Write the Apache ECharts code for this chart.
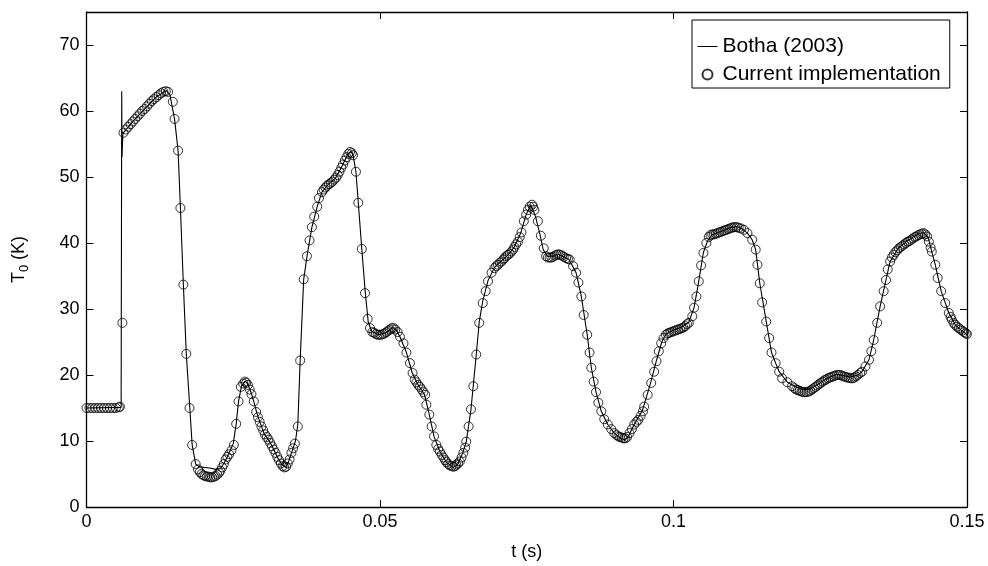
<!DOCTYPE html>
<html><head><meta charset="utf-8">
<script src="https://cdn.jsdelivr.net/npm/echarts@6/dist/echarts.min.js"></script>
<style>html,body{margin:0;padding:0;background:#fff}#c{width:988px;height:566px}</style>
</head><body><div id="c"></div>
<script>
// tick labels
const xTicks = [0, 0.05, 0.1, 0.15];
const yTicks = [0, 10, 20, 30, 40, 50, 60, 70];
const seriesNames = ['Botha (2003)', 'Current implementation'];

// Botha (2003) reference curve: [t (s), T0 (K)]
const bothaPoints = [
[0,15.0],[0.0059,15.1],[0.0060,63.0],[0.00605,53.0],[0.0062,56.6],[0.0080,58.5],[0.0100,60.4],[0.0120,62.2],[0.0136,63.1],[0.0142,62.5],
[0.0150,58.8],[0.0156,54.0],[0.0160,45.3],[0.0165,33.7],[0.0170,23.2],[0.0176,15.0],[0.0180,9.4],[0.0186,6.5],[0.0192,6.1],[0.0200,6.0],
[0.0210,5.9],[0.0220,5.7],[0.0228,5.8],[0.0234,6.6],[0.0242,8.0],[0.0250,9.6],[0.0255,12.6],[0.0259,16.0],[0.0264,18.3],[0.0270,19.1],
[0.0275,18.6],[0.0280,17.4],[0.0285,16.0],[0.0290,14.3],[0.0296,12.7],[0.0303,11.0],[0.0310,10.2],[0.0318,8.9],[0.0326,7.4],[0.0333,6.4],
[0.0339,6.0],[0.0344,6.8],[0.0350,8.4],[0.0356,10.0],[0.0360,12.5],[0.0364,22.2],[0.0370,34.5],[0.0376,38.2],[0.0384,42.4],[0.0393,45.5],
[0.0401,47.7],[0.0412,48.9],[0.0424,49.8],[0.0435,51.6],[0.0445,53.4],[0.0450,53.9],[0.0454,53.4],[0.0459,50.8],[0.0463,46.1],[0.0469,39.1],
[0.0475,32.4],[0.0480,28.0],[0.0486,26.6],[0.0498,26.1],[0.0510,26.4],[0.0522,27.2],[0.0528,26.8],[0.0534,25.8],[0.0545,23.4],[0.0555,20.3],
[0.0565,18.5],[0.0576,17.0],[0.0584,14.0],[0.0592,10.7],[0.0602,8.4],[0.0613,6.8],[0.0624,6.0],[0.0632,6.4],[0.0641,8.2],[0.0647,9.9],
[0.0655,14.8],[0.0664,23.1],[0.0669,28.0],[0.0675,31.2],[0.0684,34.3],[0.0695,36.3],[0.0707,37.3],[0.0718,38.2],[0.0729,39.4],[0.0740,41.6],
[0.0749,44.3],[0.0757,45.8],[0.0760,45.6],[0.0765,44.0],[0.0773,41.1],[0.0778,39.0],[0.0785,38.0],[0.0795,38.0],[0.0803,38.3],[0.0811,38.0],
[0.0822,37.5],[0.0834,35.5],[0.0843,31.9],[0.0853,26.1],[0.0860,21.1],[0.0868,17.4],[0.0877,14.5],[0.0888,12.5],[0.0899,11.2],[0.0910,10.4],
[0.0916,10.2],[0.0922,10.5],[0.0933,12.5],[0.0947,14.6],[0.0961,18.8],[0.0971,22.2],[0.0980,25.0],[0.0987,26.2],[0.1000,26.8],[0.1012,27.2],
[0.1026,28.0],[0.1035,30.2],[0.1043,34.2],[0.1051,38.6],[0.1058,40.3],[0.1066,41.3],[0.1080,41.7],[0.1096,42.3],[0.1108,42.5],[0.1116,42.2],
[0.1126,41.5],[0.1134,40.5],[0.1140,39.0],[0.1147,33.9],[0.1158,28.1],[0.1167,23.4],[0.1174,21.8],[0.1180,20.5],[0.1194,18.9],[0.1210,18.1],
[0.1222,17.8],[0.1234,17.9],[0.1246,18.6],[0.1262,19.5],[0.1278,20.1],[0.1290,19.9],[0.1302,19.7],[0.1314,20.0],[0.1321,20.5],[0.1333,22.3],
[0.1341,25.3],[0.1352,30.4],[0.1362,34.4],[0.1369,37.2],[0.1383,39.2],[0.1395,40.1],[0.1406,40.8],[0.1418,41.4],[0.1426,41.6],[0.1434,40.8],
[0.1440,38.7],[0.1446,36.7],[0.1456,32.7],[0.1469,29.4],[0.1480,27.6],[0.1490,26.8],[0.1500,26.1]
];

// Current implementation (circles): [t (s), T0 (K)]
const implementationPoints = [
[0,15.0],[0.0005,15.0],[0.0010,15.0],[0.0015,15.0],[0.0020,15.0],[0.0025,15.0],[0.0030,15.0],[0.0035,15.0],[0.0040,15.0],[0.0045,15.0],
[0.0050,15.0],[0.0055,15.1],[0.0057,15.2],[0.00612,27.9],
[0.0063,56.7],[0.0067,57.2],[0.0071,57.6],[0.0075,58.0],[0.0079,58.4],[0.0083,58.8],[0.0087,59.2],[0.0091,59.6],[0.0095,60.0],[0.0099,60.3],
[0.0103,60.7],[0.0107,61.1],[0.0111,61.5],[0.0115,61.8],[0.0119,62.1],[0.0123,62.4],[0.0127,62.7],[0.0131,62.9],[0.0135,63.0],[0.0139,62.9],
[0.0147,61.4],[0.0150,58.8],[0.0156,54.0],[0.0160,45.3],[0.0165,33.7],[0.0170,23.2],[0.01755,15.0],[0.0180,9.4],[0.0186,6.5],
[0.0190,5.7],[0.0193,5.3],[0.0196,5.0],[0.0199,4.8],[0.0202,4.7],[0.0205,4.6],[0.0208,4.6],[0.0211,4.5],[0.0214,4.5],[0.0217,4.6],
[0.0220,4.7],[0.0223,4.9],[0.0226,5.2],[0.0228,5.5],[0.0231,6.0],[0.0234,6.5],[0.0237,7.2],[0.0240,7.6],[0.0243,8.0],[0.0247,8.6],
[0.0251,9.4],[0.0255,12.6],[0.0259,16.0],[0.0263,18.2],[0.0267,18.7],[0.0270,19.0],[0.0272,18.8],[0.0275,18.5],[0.0278,17.8],[0.0281,17.1],
[0.0285,16.0],[0.0289,14.4],[0.0292,13.6],[0.0295,12.9],[0.0298,12.2],[0.0301,11.6],[0.0304,11.0],[0.0307,10.6],[0.0310,10.2],[0.0313,9.7],
[0.0316,9.2],[0.0319,8.7],[0.0322,8.2],[0.0325,7.6],[0.0328,7.1],[0.0331,6.6],[0.0334,6.2],[0.0337,6.0],[0.0340,6.1],[0.0343,6.6],
[0.0346,7.2],[0.0349,8.2],[0.0352,8.9],[0.0355,9.6],[0.0360,12.2],[0.0364,22.2],[0.0370,34.5],[0.03755,38.0],[0.0380,40.4],[0.0384,42.4],
[0.0388,44.0],[0.0393,45.5],[0.0396,46.8],[0.0401,47.7],[0.0404,48.1],[0.0407,48.4],[0.0410,48.7],[0.0413,48.9],[0.0416,49.1],[0.0419,49.3],
[0.0422,49.6],[0.0425,49.9],[0.0428,50.3],[0.0431,50.8],[0.0434,51.4],[0.0437,51.9],[0.0440,52.5],[0.0443,53.0],[0.0446,53.5],[0.0449,53.8],
[0.0452,53.6],[0.0454,53.3],[0.0459,50.8],[0.0463,46.1],[0.0469,39.1],[0.04745,32.4],[0.0479,28.5],[0.0483,27.1],[0.0487,26.5],[0.0490,26.4],
[0.0493,26.2],[0.0496,26.1],[0.0499,26.1],[0.0502,26.1],[0.0505,26.2],[0.0508,26.3],[0.0511,26.5],[0.0514,26.7],[0.0517,26.9],[0.0520,27.1],
[0.0523,27.1],[0.0526,26.9],[0.0530,26.5],[0.0534,25.8],[0.0540,24.8],[0.0545,23.4],[0.0551,21.8],[0.05555,20.3],[0.0559,19.3],[0.0562,18.9],
[0.0565,18.5],[0.0568,18.2],[0.0571,17.8],[0.0574,17.4],[0.0577,17.0],[0.0579,15.5],[0.0584,14.0],[0.0588,12.2],[0.0592,10.7],[0.0596,9.4],
[0.0599,8.8],[0.0602,8.4],[0.0605,7.9],[0.0608,7.5],[0.0611,7.1],[0.0613,6.8],[0.0616,6.5],[0.0619,6.3],[0.0622,6.2],[0.0625,6.1],
[0.0628,6.2],[0.0630,6.4],[0.0633,6.6],[0.0636,6.9],[0.0639,7.5],[0.0642,8.2],[0.0645,9.0],[0.0647,9.9],[0.0651,12.2],[0.0655,14.8],
[0.0659,18.3],[0.0664,23.1],[0.0669,27.9],[0.0675,30.9],[0.0680,32.7],[0.0684,34.2],[0.0690,35.5],[0.0695,36.2],[0.0698,36.5],[0.0701,36.7],
[0.0704,37.0],[0.0707,37.2],[0.0710,37.5],[0.0712,37.7],[0.0715,38.0],[0.0718,38.2],[0.0721,38.4],[0.0724,38.7],[0.0727,39.0],[0.0729,39.4],
[0.0732,39.8],[0.0735,40.2],[0.0738,40.9],[0.0741,41.6],[0.0745,43.3],[0.0749,44.3],[0.0752,45.0],[0.0755,45.5],[0.0759,45.8],[0.0761,45.5],
[0.0763,45.0],[0.0769,43.3],[0.0774,41.1],[0.0779,39.2],[0.0783,38.0],[0.0786,37.8],[0.0789,37.8],[0.0792,37.8],[0.0795,37.9],[0.0798,38.1],
[0.0801,38.2],[0.0804,38.3],[0.0807,38.2],[0.0810,38.1],[0.0813,37.9],[0.0817,37.7],[0.0820,37.6],[0.0823,37.5],[0.0829,36.5],[0.0834,35.5],
[0.0838,34.0],[0.0843,31.9],[0.0847,29.1],[0.0853,26.1],[0.0857,23.4],[0.0860,21.1],[0.0864,19.0],[0.0868,17.4],[0.0872,15.8],[0.0877,14.5],
[0.0882,13.3],[0.0888,12.5],[0.0894,11.8],[0.0899,11.2],[0.0903,10.9],[0.0906,10.7],[0.0909,10.6],[0.0912,10.5],[0.0915,10.4],[0.0918,10.4],
[0.0921,10.6],[0.0925,11.2],[0.0929,11.8],[0.0933,12.5],[0.0937,12.9],[0.0940,13.2],[0.0944,13.8],[0.0948,14.5],[0.0950,15.2],[0.0956,17.0],
[0.0962,18.8],[0.0967,20.5],[0.0971,22.1],[0.0975,23.6],[0.0979,24.8],[0.0983,25.6],[0.0987,26.1],[0.0990,26.3],[0.0993,26.4],[0.0996,26.5],
[0.0999,26.6],[0.1002,26.7],[0.1005,26.8],[0.1008,26.9],[0.1011,27.0],[0.1014,27.1],[0.1017,27.2],[0.1020,27.4],[0.1023,27.7],[0.1026,27.9],
[0.1032,28.9],[0.1035,30.2],[0.1039,31.9],[0.1043,34.2],[0.1047,36.6],[0.1051,38.5],[0.1056,40.0],[0.1060,40.9],[0.1063,41.2],[0.1066,41.3],
[0.1069,41.3],[0.1072,41.4],[0.1075,41.5],[0.1078,41.6],[0.1081,41.7],[0.1084,41.8],[0.1087,41.9],[0.1090,42.0],[0.1093,42.1],[0.1096,42.2],
[0.1099,42.3],[0.1102,42.4],[0.1105,42.4],[0.1108,42.4],[0.1111,42.3],[0.1115,42.2],[0.1120,42.0],[0.1126,41.5],[0.1134,40.5],[0.1140,39.0],
[0.1143,36.7],[0.1147,33.9],[0.1151,31.0],[0.1158,28.1],[0.1163,25.6],[0.1167,23.4],[0.1174,21.8],[0.1180,20.5],[0.1185,19.5],[0.1194,18.9],
[0.1202,18.3],[0.1206,18.0],[0.1209,17.8],[0.1212,17.7],[0.1215,17.6],[0.1218,17.5],[0.1221,17.4],[0.1224,17.4],[0.1227,17.4],[0.1230,17.5],
[0.1233,17.6],[0.1236,17.8],[0.1239,18.0],[0.1242,18.2],[0.1245,18.4],[0.1248,18.6],[0.1251,18.8],[0.1254,19.0],[0.1257,19.2],[0.1260,19.3],
[0.1263,19.5],[0.1266,19.6],[0.1269,19.7],[0.1272,19.8],[0.1275,19.9],[0.1278,20.0],[0.1281,20.0],[0.1284,20.0],[0.1287,19.9],[0.1290,19.8],
[0.1293,19.7],[0.1296,19.6],[0.1299,19.6],[0.1302,19.5],[0.1305,19.5],[0.1308,19.6],[0.1311,19.8],[0.1314,20.0],[0.1318,20.3],[0.1321,20.5],
[0.1327,21.3],[0.1333,22.3],[0.1337,23.6],[0.1341,25.3],[0.1347,27.9],[0.1352,30.4],[0.1358,32.7],[0.1362,34.4],[0.1365,36.0],[0.1369,37.2],
[0.1372,37.8],[0.1375,38.2],[0.1378,38.6],[0.1381,38.9],[0.1384,39.2],[0.1387,39.4],[0.1390,39.6],[0.1393,39.8],[0.1396,40.0],[0.1399,40.2],
[0.1402,40.3],[0.1405,40.5],[0.1408,40.7],[0.1411,40.9],[0.1414,41.0],[0.1417,41.2],[0.1420,41.3],[0.1423,41.4],[0.1426,41.5],[0.1429,41.3],
[0.1432,41.0],[0.1435,40.2],[0.1438,39.3],[0.1440,38.7],[0.1446,36.7],[0.1450,34.7],[0.1456,32.7],[0.1463,30.9],[0.1469,29.4],[0.1472,28.8],
[0.1474,28.4],[0.1477,27.9],[0.1480,27.6],[0.1483,27.3],[0.1486,27.1],[0.1489,26.9],[0.1492,26.7],[0.1495,26.5],[0.1498,26.3],[0.1500,26.2]
];

const FONT = 'Liberation Sans, Arial, Helvetica, sans-serif';
const chart = echarts.init(document.getElementById('c'), null, {renderer: 'canvas'});
const axisLineStyle = {color: '#000', width: 1.3};
const tickStyle = {color: '#000', width: 1};
chart.setOption({
  animation: false,
  backgroundColor: '#fff',
  textStyle: {fontFamily: FONT, color: '#000'},
  grid: {left: 84, right: 21, top: 12, bottom: 59, containLabel: false},
  legend: {
    orient: 'vertical', left: 692, top: 20,
    data: [
      {name: seriesNames[0], itemStyle: {opacity: 0}, lineStyle: {color: '#000', width: 1}},
      {name: seriesNames[1]}
    ],
    backgroundColor: '#fff', borderColor: '#000', borderWidth: 1,
    padding: [16, 9, 3, 5], itemGap: 7, itemWidth: 20, itemHeight: 10,
    textStyle: {fontFamily: FONT, fontSize: 21, color: '#000'}
  },
  xAxis: [{
    type: 'value', min: 0, max: 0.15, interval: 0.05,
    name: 't (s)', nameLocation: 'middle', nameGap: 36,
    nameTextStyle: {fontFamily: FONT, fontSize: 18, color: '#000'},
    axisLine: {show: true, lineStyle: axisLineStyle},
    axisTick: {show: true, inside: true, length: 7, lineStyle: tickStyle, customValues: xTicks},
    axisLabel: {show: true, fontFamily: FONT, fontSize: 18, color: '#000', margin: 6, customValues: xTicks,
      formatter: v => String(Math.round(v * 1000) / 1000)},
    splitLine: {show: false}
  }, {
    type: 'value', position: 'top', min: 0, max: 0.15, interval: 0.05,
    axisLine: {show: true, onZero: false, lineStyle: axisLineStyle},
    axisTick: {show: true, inside: true, length: 7, lineStyle: tickStyle, customValues: xTicks},
    axisLabel: {show: false}, splitLine: {show: false}
  }],
  yAxis: [{
    type: 'value', min: 0, max: 75,
    name: '{a|T}{s|0}{a| (K)}', nameLocation: 'middle', nameGap: 55, nameRotate: 90,
    nameTextStyle: {fontFamily: FONT, color: '#000', rich: {
      a: {fontFamily: FONT, fontSize: 18, color: '#000', lineHeight: 24},
      s: {fontFamily: FONT, fontSize: 13, color: '#000', lineHeight: 24, padding: [10, 0, 0, 0]}
    }},
    axisLine: {show: true, lineStyle: axisLineStyle},
    axisTick: {show: true, inside: true, length: 7, lineStyle: tickStyle, customValues: yTicks},
    axisLabel: {show: true, fontFamily: FONT, fontSize: 18, color: '#000', margin: 7, customValues: yTicks},
    splitLine: {show: false}
  }, {
    type: 'value', position: 'right', min: 0, max: 75,
    axisLine: {show: true, onZero: false, lineStyle: axisLineStyle},
    axisTick: {show: true, inside: true, length: 7, lineStyle: tickStyle, customValues: yTicks},
    axisLabel: {show: false}, splitLine: {show: false}
  }],
  series: [{
    name: seriesNames[0], type: 'line', xAxisIndex: 0, yAxisIndex: 0,
    data: bothaPoints, symbol: 'none', smooth: false,
    lineStyle: {color: '#000', width: 1.1}, itemStyle: {color: '#000'}, z: 2
  }, {
    name: seriesNames[1], type: 'scatter', xAxisIndex: 0, yAxisIndex: 0,
    data: implementationPoints, symbol: 'circle', symbolSize: 9,
    itemStyle: {color: 'rgba(255,255,255,0)', borderColor: '#000', borderWidth: 1}, z: 3
  }]
});
</script></body></html>
